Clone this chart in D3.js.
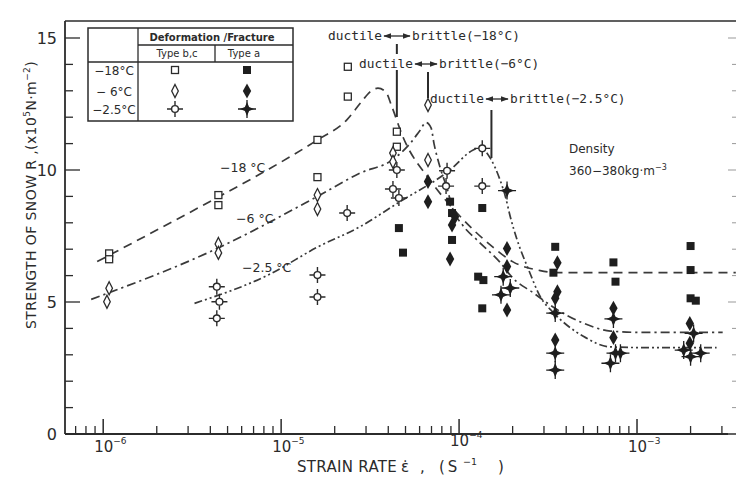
<!DOCTYPE html>
<html>
<head>
<meta charset="utf-8">
<script src="https://cdn.jsdelivr.net/npm/d3@7"></script>
<style>
  html, body { margin: 0; padding: 0; background: #fff; }
  svg { display: block; }
  text { font-family: "DejaVu Sans", "Noto Sans", sans-serif; fill: #2b2b2b; }
  text.mono { font-family: "DejaVu Sans Mono", "Liberation Mono", monospace; }
</style>
</head>
<body>
<svg id="chart" width="736" height="479"></svg>
<script>
// Snow strength R (x10^5 N/m^2) versus strain rate (1/s), three temperatures.
// Each point: [strain rate, strength].

// -18 °C
const open18 = [[1.08e-6, 6.84], [1.08e-6, 6.62], [4.44e-6, 9.05], [4.44e-6, 8.67],
  [1.6e-5, 11.14], [1.6e-5, 9.73], [2.37e-5, 13.91], [2.37e-5, 12.78],
  [4.47e-5, 11.45], [4.47e-5, 10.88]];
const fill18 = [[4.59e-5, 7.8], [4.84e-5, 6.87], [8.9e-5, 8.8], [9.13e-5, 8.37], [9.13e-5, 7.35],
  [1.35e-4, 8.56], [1.28e-4, 5.96], [1.37e-4, 5.83], [1.35e-4, 4.76],
  [3.47e-4, 7.09], [3.39e-4, 6.11], [7.37e-4, 6.5], [7.57e-4, 5.77],
  [2.0e-3, 7.12], [2.0e-3, 6.21], [2.0e-3, 5.14], [2.14e-3, 5.05]];

// -6 °C
const open6 = [[1.08e-6, 5.52], [1.05e-6, 5.01], [4.44e-6, 7.2], [4.44e-6, 6.86],
  [1.6e-5, 9.05], [1.6e-5, 8.52], [4.25e-5, 10.64], [4.25e-5, 10.31],
  [6.69e-5, 12.46], [6.69e-5, 10.38]];
const fill6 = [[6.69e-5, 9.56], [6.69e-5, 8.8], [9.49e-5, 8.23], [9.13e-5, 7.92], [8.9e-5, 6.63],
  [1.86e-4, 7.03], [1.86e-4, 6.34], [1.86e-4, 4.7],
  [3.57e-4, 6.49], [3.57e-4, 5.39], [3.47e-4, 5.14], [3.47e-4, 3.56],
  [7.37e-4, 4.76], [7.37e-4, 3.66], [1.98e-3, 4.19], [1.98e-3, 3.44]];

// -2.5 °C
const open25 = [[4.35e-6, 5.58], [4.5e-6, 5.01], [4.35e-6, 4.38], [1.6e-5, 6.02], [1.6e-5, 5.19],
  [2.35e-5, 8.37], [4.47e-5, 10.0], [4.25e-5, 9.28], [4.59e-5, 8.94],
  [8.56e-5, 9.97], [8.45e-5, 9.39], [1.35e-4, 10.82], [1.35e-4, 9.39]];
const fill25 = [[1.86e-4, 9.22], [1.77e-4, 5.96], [1.72e-4, 5.27], [1.94e-4, 5.53],
  [3.47e-4, 4.58], [3.47e-4, 3.06], [3.47e-4, 2.42],
  [7.37e-4, 4.36], [7.57e-4, 3.06], [8.07e-4, 3.06], [7.09e-4, 2.68],
  [2.08e-3, 3.81], [1.83e-3, 3.18], [2.28e-3, 3.06], [2.0e-3, 2.93]];

// Hand-fitted trend curves
const curve18 = [[9.25e-7, 6.53], [4.44e-6, 8.98], [8.61e-6, 10.05], [1.6e-5, 11.14], [2.34e-5, 11.9],
  [2.84e-5, 12.6], [3.15e-5, 12.95], [3.5e-5, 13.1], [3.88e-5, 12.95], [4.19e-5, 12.4],
  [4.84e-5, 11.25], [6.86e-5, 9.62], [9.74e-5, 8.37], [1.55e-4, 7.08], [2.01e-4, 6.52],
  [2.86e-4, 6.19], [3.71e-4, 6.11], [3.59e-3, 6.11]];
const curve6 = [[8.56e-7, 5.1], [4.44e-6, 7.05], [1.6e-5, 9.0], [2.77e-5, 9.88], [4.25e-5, 10.4],
  [5.3e-5, 11.0], [6.03e-5, 11.5], [6.52e-5, 11.8], [6.96e-5, 11.6], [7.23e-5, 11.0],
  [7.82e-5, 10.1], [8.56e-5, 9.3], [9.25e-5, 8.5], [1.05e-4, 7.9], [1.26e-4, 7.35],
  [1.7e-4, 6.5], [2.01e-4, 5.9], [2.61e-4, 5.35], [3.39e-4, 4.8], [4.99e-4, 4.2],
  [7.09e-4, 3.9], [1.05e-3, 3.85], [3.03e-3, 3.85]];
const curve25 = [[3.26e-6, 4.95], [8.61e-6, 6.05], [1.6e-5, 7.08], [2.77e-5, 7.85], [4.65e-5, 8.8],
  [8.9e-5, 10.0], [1.2e-4, 10.76], [1.31e-4, 10.85], [1.5e-4, 10.44], [1.7e-4, 9.62],
  [1.82e-4, 9.0], [1.94e-4, 8.23], [2.12e-4, 7.35], [2.45e-4, 6.25], [2.86e-4, 5.2],
  [3.39e-4, 4.6], [4.99e-4, 3.7], [7.09e-4, 3.3], [1.19e-3, 3.27], [2.8e-3, 3.27]];

// Ductile-brittle transition rates
const transitions = [
  { label: "(−18°C)", rate: 4.47e-5 },
  { label: "(−6°C)", rate: 6.69e-5 },
  { label: "(−2.5°C)", rate: 1.52e-4 }
];

// Axis ticks
const yMajor = [0, 5, 10, 15];
const yMinor = d3.range(0, 16);
const xDecades = [1e-6, 1e-5, 1e-4, 1e-3];
const xDecadeLabels = ["−6", "−5", "−4", "−3"];

// Legend table rows
const legendRows = ["−18°C", "− 6°C", "−2.5°C"];
const legendHeads = ["Deformation /Fracture", "Type b,c", "Type a"];

// ---------------------------------------------------------------
const svg = d3.select("#chart");
const ink = "#2b2b2b";

const x = d3.scaleLog().domain([6.1e-7, 3.6e-3]).range([65, 736]);
const y = d3.scaleLinear().domain([0, 15]).range([434, 38]);
const yTop = 21;

// frame
const frame = svg.append("g").attr("stroke", ink).attr("fill", "none");
frame.append("line").attr("x1", 65).attr("x2", 736).attr("y1", y(0)).attr("y2", y(0)).attr("stroke-width", 1.8);
frame.append("line").attr("x1", 65).attr("x2", 65).attr("y1", yTop).attr("y2", y(0)).attr("stroke-width", 1.8);
frame.append("line").attr("x1", 65).attr("x2", 736).attr("y1", yTop).attr("y2", yTop).attr("stroke-width", 1.4);

// x ticks (pointing up, inside)
const xMinor = [];
for (let e = -7; e <= -3; e++) for (let m = 2; m <= 9; m++) {
  const v = m * Math.pow(10, e);
  if (v > 6.2e-7 && v < 3.6e-3) xMinor.push(v);
}
frame.selectAll(".xmin").data(xMinor).join("line")
  .attr("x1", d => x(d)).attr("x2", d => x(d))
  .attr("y1", y(0)).attr("y2", y(0) - 8).attr("stroke-width", 1.3);
frame.selectAll(".xmaj").data(xDecades).join("line")
  .attr("x1", d => x(d)).attr("x2", d => x(d))
  .attr("y1", y(0)).attr("y2", y(0) - 15).attr("stroke-width", 1.5);

// y ticks (pointing right, inside) and right-edge ticks
frame.selectAll(".ymin").data(yMinor).join("line")
  .attr("x1", 65).attr("x2", d => yMajor.includes(d) ? 80 : 73)
  .attr("y1", d => y(d)).attr("y2", d => y(d)).attr("stroke-width", 1.3);
frame.selectAll(".yr").data(yMinor).join("line")
  .attr("x1", 736).attr("x2", d => yMajor.includes(d) ? 728 : 732)
  .attr("y1", d => y(d)).attr("y2", d => y(d)).attr("stroke-width", 1).attr("stroke", "#999");

// tick labels
svg.selectAll(".ylab").data(yMajor).join("text")
  .attr("x", 57).attr("y", d => y(d) + 6).attr("text-anchor", "end")
  .attr("font-size", 16).text(d => d);

const xl = svg.selectAll(".xlab").data(xDecades).join("text")
  .attr("x", d => x(d) - 9).attr("y", (d, i) => i === 2 ? 446 : 452)
  .attr("font-size", 15);
xl.append("tspan").text("10");
xl.append("tspan").attr("dy", -8).attr("font-size", 9).text((d, i) => xDecadeLabels[i]);

// x axis title, set piece by piece for its wide spacing
const xTitle = [
  { s: "STRAIN RATE", x: 297, dy: 0, fs: 15, ls: 0.3 },
  { s: "ε̇", x: 401, dy: 0, fs: 15, ls: 0 },
  { s: ",", x: 420, dy: 0, fs: 15, ls: 0 },
  { s: "(S", x: 439, dy: 0, fs: 15, ls: 3 },
  { s: "−1", x: 463, dy: -7, fs: 9.5, ls: 0 },
  { s: ")", x: 498, dy: 0, fs: 15, ls: 0 }
];
svg.selectAll(".xt").data(xTitle).join("text")
  .attr("x", d => d.x).attr("y", d => 472 + d.dy).attr("font-size", d => d.fs)
  .attr("letter-spacing", d => d.ls).text(d => d.s);

const yt = svg.append("text").attr("transform", "translate(36,195) rotate(-90)")
  .attr("text-anchor", "middle").attr("font-size", 14).attr("letter-spacing", 0.4);
yt.append("tspan").text("STRENGTH OF SNOW R ,(x10");
yt.append("tspan").attr("dy", -6).attr("font-size", 9).text("5");
yt.append("tspan").attr("dy", 6).text("N·m");
yt.append("tspan").attr("dy", -6).attr("font-size", 9).text("−2");
yt.append("tspan").attr("dy", 6).text(")");

// trend curves
const line = d3.line().x(d => x(d[0])).y(d => y(d[1])).curve(d3.curveMonotoneX);
const curves = [
  { data: curve18, dash: "9,6" },
  { data: curve6, dash: "9,4,2.2,4" },
  { data: curve25, dash: "8,3,2,3,2,3" }
];
svg.append("g").selectAll("path").data(curves).join("path")
  .attr("d", d => line(d.data)).attr("fill", "none").attr("stroke", "#3a3a3a")
  .attr("stroke-width", 1.7).attr("stroke-dasharray", d => d.dash);

// marker shapes
function star(outer, inner) {
  const pts = [];
  for (let i = 0; i < 8; i++) {
    const a = -Math.PI / 2 + i * Math.PI / 4;
    const r = i % 2 === 0 ? outer : inner;
    pts.push([r * Math.cos(a), r * Math.sin(a)]);
  }
  return "M" + pts.map(p => p.join(",")).join("L") + "Z";
}
const marker = {
  openSquare: g => g.append("rect").attr("x", -3.5).attr("y", -3.5).attr("width", 7).attr("height", 7)
    .attr("fill", "#fff").attr("stroke", ink).attr("stroke-width", 1.3),
  fillSquare: g => g.append("rect").attr("x", -4).attr("y", -4).attr("width", 8).attr("height", 8)
    .attr("fill", "#1e1e1e"),
  openDiamond: g => g.append("path").attr("d", "M0,-6.5L3.3,0L0,6.5L-3.3,0Z")
    .attr("fill", "#fff").attr("stroke", ink).attr("stroke-width", 1.3),
  fillDiamond: g => g.append("path").attr("d", "M0,-7.5L4.2,0L0,7.5L-4.2,0Z").attr("fill", "#1e1e1e"),
  openStar: g => {
    g.append("path").attr("d", "M0,-8V-3.4M0,8V3.4M-8,0H-3.4M8,0H3.4")
      .attr("stroke", ink).attr("stroke-width", 1.4);
    g.append("circle").attr("r", 3.4).attr("fill", "#fff").attr("stroke", ink).attr("stroke-width", 1.4);
  },
  fillStar: g => {
    g.append("path").attr("d", "M0,-9V9M-9,0H9").attr("stroke", "#1e1e1e").attr("stroke-width", 1.3);
    g.append("path").attr("d", star(7, 3)).attr("fill", "#1e1e1e");
  }
};

const groups = [
  { data: open18, kind: "openSquare" }, { data: open6, kind: "openDiamond" }, { data: open25, kind: "openStar" },
  { data: fill18, kind: "fillSquare" }, { data: fill6, kind: "fillDiamond" }, { data: fill25, kind: "fillStar" }
];
const pts = svg.append("g");
groups.forEach(gr => {
  pts.selectAll(null).data(gr.data).join("g")
    .attr("transform", d => `translate(${x(d[0])},${y(d[1])})`)
    .each(function () { marker[gr.kind](d3.select(this)); });
});

// ductile <-> brittle annotations
svg.append("defs").append("marker").attr("id", "ah").attr("viewBox", "0 0 10 10")
  .attr("refX", 9).attr("refY", 5).attr("markerWidth", 6).attr("markerHeight", 6)
  .attr("orient", "auto-start-reverse")
  .append("path").attr("d", "M0,1.5L10,5L0,8.5Z").attr("fill", ink);

const annot = [
  { t: transitions[0], ty: 40, ax0: 384, ax1: 410, segs: [[44, 54], [70, 117]] },
  { t: transitions[1], ty: 68, ax0: 415, ax1: 437, segs: [[72, 98]] },
  { t: transitions[2], ty: 103, ax0: 486, ax1: 508, segs: [[110, 158]] }
];
const ag = svg.append("g");
annot.forEach(a => {
  ag.append("text").attr("class", "mono").attr("x", a.ax0 - 2).attr("y", a.ty).attr("text-anchor", "end")
    .attr("font-size", 12.8).text("ductile");
  ag.append("text").attr("class", "mono").attr("x", a.ax1 + 2).attr("y", a.ty)
    .attr("font-size", 12.8).text("brittle" + a.t.label);
  ag.append("line").attr("x1", a.ax0).attr("x2", a.ax1).attr("y1", a.ty - 4).attr("y2", a.ty - 4)
    .attr("stroke", ink).attr("stroke-width", 1.3)
    .attr("marker-start", "url(#ah)").attr("marker-end", "url(#ah)");
  a.segs.forEach(s => ag.append("line")
    .attr("x1", x(a.t.rate)).attr("x2", x(a.t.rate)).attr("y1", s[0]).attr("y2", s[1])
    .attr("stroke", ink).attr("stroke-width", 2));
});

// curve labels
const cl = [["−18 °C", 220, 172], ["−6 °C", 236, 223], ["−2.5 °C", 242, 272]];
svg.selectAll(".cl").data(cl).join("text")
  .attr("x", d => d[1]).attr("y", d => d[2]).attr("font-size", 12.5).text(d => d[0]);

// density note
svg.append("text").attr("x", 569).attr("y", 153).attr("font-size", 12).text("Density");
const dn = svg.append("text").attr("x", 569).attr("y", 175).attr("font-size", 12);
dn.append("tspan").text("360−380kg·m");
dn.append("tspan").attr("dy", -5).attr("font-size", 8).text("−3");

// legend table
const lg = svg.append("g");
const L = { x0: 88, x1: 293, y0: 28, y1: 121, xc: 138, xm: 215, yh1: 45, yh2: 62 };
lg.append("rect").attr("x", L.x0).attr("y", L.y0).attr("width", L.x1 - L.x0).attr("height", L.y1 - L.y0)
  .attr("fill", "#fff").attr("stroke", ink).attr("stroke-width", 1.5);
lg.append("line").attr("x1", L.xc).attr("x2", L.xc).attr("y1", L.y0).attr("y2", L.y1).attr("stroke", ink).attr("stroke-width", 1.3);
lg.append("line").attr("x1", L.xc).attr("x2", L.x1).attr("y1", L.yh1).attr("y2", L.yh1).attr("stroke", ink).attr("stroke-width", 1.3);
lg.append("line").attr("x1", L.xm).attr("x2", L.xm).attr("y1", L.yh1).attr("y2", L.yh2).attr("stroke", ink).attr("stroke-width", 1.3);
lg.append("line").attr("x1", L.x0).attr("x2", L.x1).attr("y1", L.yh2).attr("y2", L.yh2).attr("stroke", ink).attr("stroke-width", 1.5);
lg.append("text").attr("x", 212).attr("y", 41).attr("text-anchor", "middle").attr("font-size", 10).attr("font-weight", "bold").text(legendHeads[0]);
lg.append("text").attr("x", 177).attr("y", 57).attr("text-anchor", "middle").attr("font-size", 10).text(legendHeads[1]);
lg.append("text").attr("x", 244).attr("y", 57).attr("text-anchor", "middle").attr("font-size", 10).text(legendHeads[2]);
const rowY = [70, 91, 109];
const rowKinds = [["openSquare", "fillSquare"], ["openDiamond", "fillDiamond"], ["openStar", "fillStar"]];
legendRows.forEach((r, i) => {
  lg.append("text").attr("x", 114).attr("y", rowY[i] + 4.5).attr("text-anchor", "middle").attr("font-size", 12).text(r);
  marker[rowKinds[i][0]](lg.append("g").attr("transform", `translate(175,${rowY[i]})`));
  marker[rowKinds[i][1]](lg.append("g").attr("transform", `translate(247,${rowY[i]})`));
});
</script>
</body>
</html>
